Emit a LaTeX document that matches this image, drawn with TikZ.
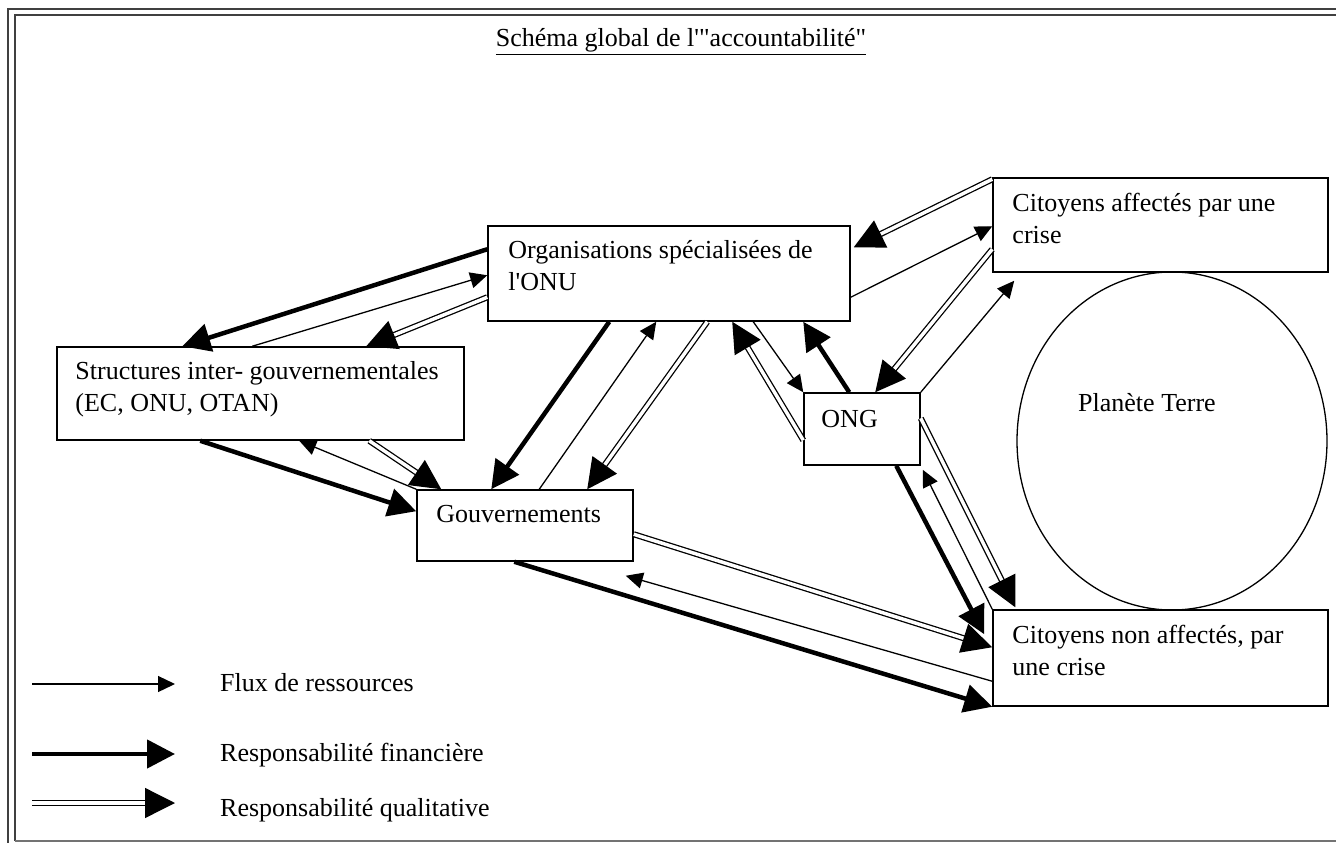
\documentclass[tikz,border=0pt]{standalone}
\usepackage{fontspec}
\setmainfont{Liberation Serif}[Ligatures=TeXOff]
\usetikzlibrary{arrows.meta,calc,shapes.geometric}
\begin{document}
\begin{tikzpicture}[x=1pt,y=-1pt,
  box/.style={draw, line width=1.5pt, inner sep=0pt},
  lbl/.style={anchor=base west, inner sep=0pt, align=left, font=\fontsize{26}{32}\selectfont},
  flux/.style={line width=1.3pt, -{Triangle[length=17pt,width=16pt]}},
  fin/.style={line width=4.5pt, -{Triangle[length=28pt,width=28pt]}},
  qual/.style={double, double distance=3.5pt, line width=1.3pt, -{Triangle[length=30pt,width=30pt]}},
  frame/.style={line width=2pt, black!75}]
\useasboundingbox (0,0) rectangle (1336,843);
% frame
\draw[frame] (8,843) -- (8,9) -- (1336,9);
\draw[frame] (15,841) -- (15,15) -- (1336,15);
\draw[line width=1.5pt, black!55] (15,841) -- (1336,841);
% title
\node[anchor=base, inner sep=0pt, font=\fontsize{26}{32}\selectfont] (title) at (681,47) {\underline{Schéma global de l'"accountabilité"}};
% boxes
\node[box, minimum width=362pt, minimum height=95pt] (onu) at (669,273.5) {};
\node[box, minimum width=407pt, minimum height=93pt] (inter) at (260.5,393.5) {};
\node[box, minimum width=216pt, minimum height=71pt] (gouv) at (525,525.5) {};
\node[box, minimum width=116pt, minimum height=72pt] (ong) at (862,429) {};
\node[box, minimum width=335pt, minimum height=94pt] (citaff) at (1160.5,225) {};
\node[box, minimum width=335pt, minimum height=96pt] (citnon) at (1160.5,658) {};
\node[draw, line width=1.3pt, ellipse, inner sep=0pt, minimum width=310pt, minimum height=338pt] (earth) at (1172,441) {};
% labels (base = baseline of last line)
\node[lbl] (tonu) at ($(onu.north west)+(21,65)$) {Organisations spécialisées de\\l'ONU};
\node[lbl] (tinter) at ($(inter.north west)+(19,65)$) {Structures inter- gouvernementales\\(EC, ONU, OTAN)};
\node[lbl] (tgouv) at ($(gouv.north west)+(20,33)$) {Gouvernements};
\node[lbl] (tong) at ($(ong.north west)+(18,35)$) {ONG};
\node[lbl] (tcitaff) at ($(citaff.north west)+(20,66)$) {Citoyens affectés par une\\crise};
\node[lbl] (tcitnon) at ($(citnon.north west)+(20,66)$) {Citoyens non affectés, par\\une crise};
\node[lbl] (tearth) at (1078,411) {Planète Terre};
% connectors ONU - Inter
\draw[fin] ($(onu.north west)+(0,24)$) -- ($(inter.north west)+(126,0)$);
\draw[flux] ($(inter.north west)+(196,0)$) -- ($(onu.north west)+(0,50)$);
\draw[qual] ($(onu.north west)+(0,72)$) -- ($(inter.north west)+(310,0)$);
% Inter - Gouv
\draw[fin] ($(inter.south west)+(144,0)$) -- ($(gouv.north west)+(0,22)$);
\draw[flux] (gouv.north west) -- ($(inter.south west)+(243,0)$);
\draw[qual] ($(inter.south west)+(313,0)$) -- ($(gouv.north west)+(25,0)$);
% ONU - Gouv
\draw[fin] ($(onu.south west)+(122,0)$) -- ($(gouv.north west)+(75,0)$);
\draw[flux] ($(gouv.north west)+(123,0)$) -- ($(onu.south west)+(169,0)$);
\draw[qual] ($(onu.south west)+(220,0)$) -- ($(gouv.north west)+(171,0)$);
% ONU - ONG
\draw[qual] ($(ong.north west)+(0,48)$) -- ($(onu.south west)+(245,0)$);
\draw[flux] ($(onu.south west)+(266,0)$) -- (ong.north west);
\draw[fin] ($(ong.north west)+(46,0)$) -- ($(onu.south west)+(316,0)$);
% ONU - CitAff
\draw[qual] ($(citaff.north west)+(0,2)$) -- ($(onu.north east)+(3,22)$);
\draw[flux] ($(onu.north east)+(0,72)$) -- ($(citaff.north west)+(0,49)$);
% CitAff - ONG
\draw[qual] ($(citaff.north west)+(0,72)$) -- ($(ong.north west)+(72,0)$);
\draw[flux] (ong.north east) -- ($(citaff.south west)+(22,8)$);
% ONG - CitNon
\draw[fin] ($(ong.south west)+(93,0)$) -- ($(citnon.north west)+(-8,25)$);
\draw[flux] (citnon.north west) -- ($(ong.south east)+(2,4)$);
\draw[qual] ($(ong.north east)+(0,26)$) -- ($(citnon.north west)+(23,-2)$);
% Gouv - CitNon
\draw[qual] ($(gouv.north east)+(0,45)$) -- ($(citnon.north west)+(0,38)$);
\draw[flux] ($(citnon.north west)+(0,72)$) -- ($(gouv.south east)+(-8,14)$);
\draw[fin] ($(gouv.south west)+(98,0)$) -- (citnon.south west);
% legend
\coordinate (lf1) at (32,684); \coordinate (lf2) at (175,684);
\coordinate (lr1) at (32,754); \coordinate (lr2) at (175,754);
\coordinate (lq1) at (32,803); \coordinate (lq2) at (175,803);
\draw[flux] (lf1) -- (lf2);
\draw[fin] (lr1) -- (lr2);
\draw[qual] (lq1) -- (lq2);
\node[lbl] (tlf) at (220,691) {Flux de ressources};
\node[lbl] (tlr) at (220,761) {Responsabilité financière};
\node[lbl] (tlq) at (220,816) {Responsabilité qualitative};
\end{tikzpicture}
\end{document}
